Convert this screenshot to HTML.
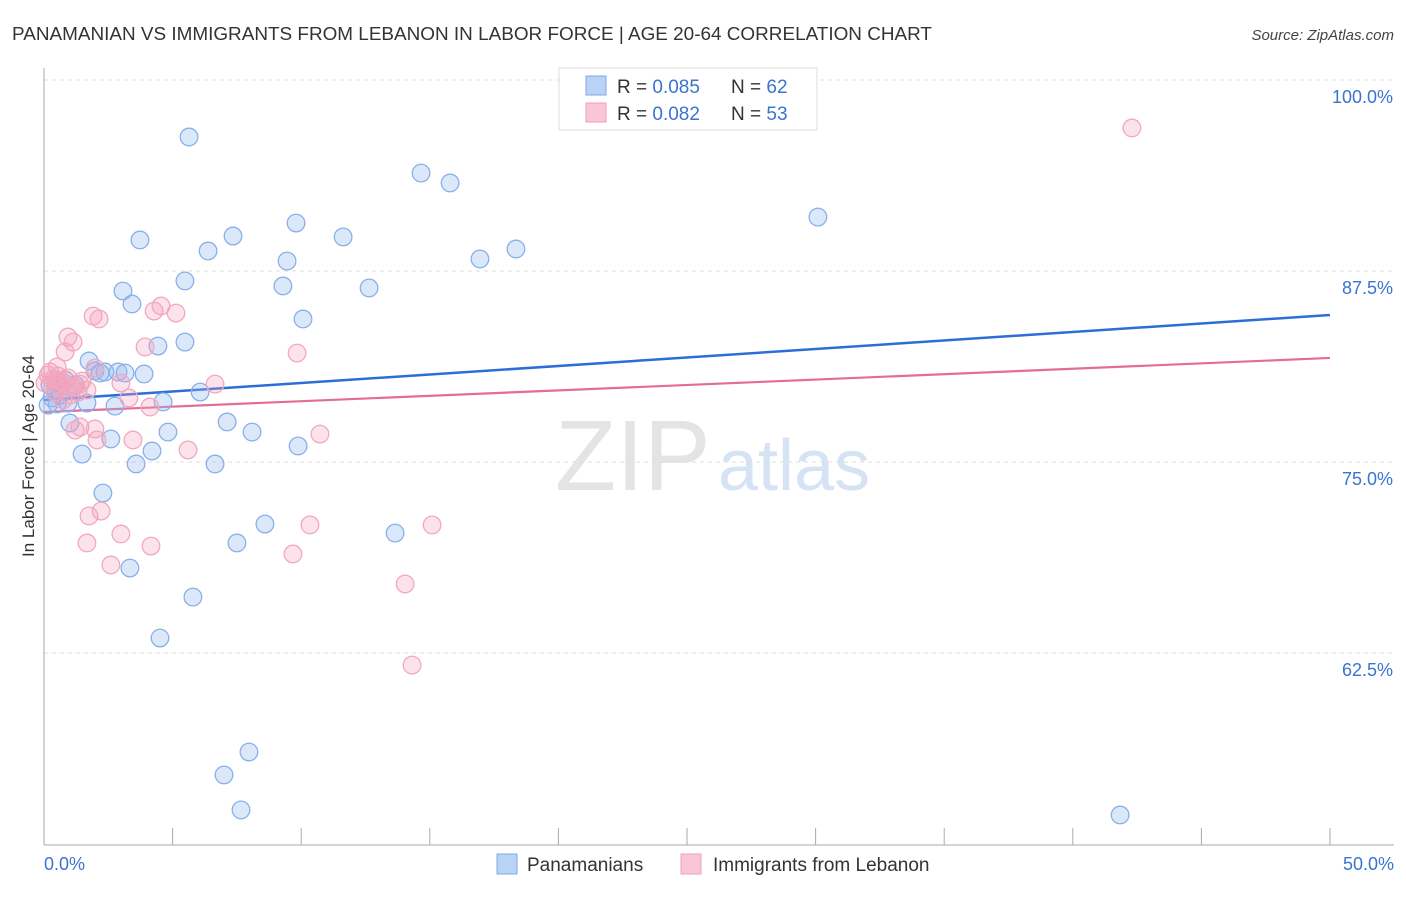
<!DOCTYPE html>
<html><head><meta charset="utf-8"><style>
body{margin:0;background:#fff;font-family:"Liberation Sans",sans-serif;}
svg text{font-family:"Liberation Sans",sans-serif;}
</style></head><body>
<svg id="chart" width="1406" height="892" xmlns="http://www.w3.org/2000/svg">
<text x="12" y="40" font-size="18" fill="#333" textLength="920" lengthAdjust="spacingAndGlyphs">PANAMANIAN VS IMMIGRANTS FROM LEBANON IN LABOR FORCE | AGE 20-64 CORRELATION CHART</text>
<text x="1394" y="40" font-size="15" fill="#444" text-anchor="end" font-style="italic">Source: ZipAtlas.com</text>
<g>
<text x="555" y="490" font-size="100" fill="#e4e4e4" font-family="Liberation Serif,serif">ZIP</text>
<text x="718" y="490" font-size="72" fill="#d6e3f5">atlas</text>
</g>
<g id="grid"></g>
<g id="axes"></g>
<g id="lines"></g>
<g id="pts"></g>
<g>
<rect x="559" y="68" width="258" height="62" fill="#fff" stroke="#ddd"/>
<rect x="586" y="76" width="20" height="19" fill="#b9d3f5" stroke="#7fa9e6"/>
<rect x="586" y="103" width="20" height="19" fill="#f9c6d5" stroke="#f0a0b8"/>
<text x="617" y="93" font-size="19" fill="#333">R = <tspan fill="#3a73d0">0.085</tspan></text>
<text x="731" y="93" font-size="19" fill="#333">N = <tspan fill="#3a73d0">62</tspan></text>
<text x="617" y="120" font-size="19" fill="#333">R = <tspan fill="#3a73d0">0.082</tspan></text>
<text x="731" y="120" font-size="19" fill="#333">N = <tspan fill="#3a73d0">53</tspan></text>
</g>
<g>
<rect x="497" y="854" width="20" height="20" fill="#b9d3f5" stroke="#7fa9e6"/>
<text x="527" y="871" font-size="19" fill="#333">Panamanians</text>
<rect x="681" y="854" width="20" height="20" fill="#f9c6d5" stroke="#f0a0b8"/>
<text x="713" y="871" font-size="19" fill="#333">Immigrants from Lebanon</text>
</g>
<text transform="translate(34,456) rotate(-90)" font-size="17" fill="#333" text-anchor="middle">In Labor Force | Age 20-64</text>
</svg>
<script>
const blueX=[5.64,14.66,15.79,30.09,3.73,7.35,9.80,11.63,6.38,18.35,16.95,9.45,5.48,9.29,12.64,3.07,3.42,10.07,5.48,4.43,1.75,1.98,2.37,2.88,3.15,3.89,6.07,4.63,2.76,0.51,0.31,0.93,1.67,1.01,7.12,8.09,4.82,2.60,4.20,1.48,3.58,6.65,9.88,2.29,8.59,13.65,7.50,3.34,5.79,4.51,7.97,7.00,7.66,41.84,23.09,0.43,0.62,0.16,1.21,0.82,2.18,0.23];
const blueY=[96.27,93.91,93.26,91.03,89.53,89.79,90.64,89.73,88.81,88.94,88.29,88.15,86.85,86.52,86.39,86.19,85.34,84.36,82.85,82.59,81.61,80.96,80.89,80.89,80.82,80.76,79.58,78.93,78.66,78.80,79.19,78.86,78.86,77.55,77.62,76.96,76.96,76.51,75.72,75.52,74.87,74.87,76.05,72.97,70.94,70.35,69.70,68.06,66.16,63.48,56.02,54.52,52.23,51.90,97.84,79.71,79.38,78.73,80.04,80.37,80.82,80.04];
const pinkX=[42.30,1.91,2.14,4.28,4.55,5.13,0.93,1.13,0.82,9.84,3.93,0.51,1.98,0.23,0.47,0.78,0.62,1.13,1.40,1.67,1.32,2.99,6.65,3.30,4.12,1.21,1.40,1.98,2.06,3.46,5.60,10.73,1.75,2.22,2.99,1.67,4.16,2.60,10.34,9.68,15.09,14.04,14.31,0.16,0.31,0.54,0.70,0.93,0.04,1.48,1.01,0.43,0.74];
const pinkY=[96.86,84.55,84.36,84.88,85.21,84.75,83.18,82.85,82.20,82.13,82.53,81.22,81.15,80.89,80.37,80.17,79.91,79.91,80.10,79.71,79.58,80.17,80.10,79.19,78.60,77.09,77.29,77.16,76.44,76.44,75.79,76.83,71.47,71.79,70.29,69.70,69.50,68.26,70.88,68.98,70.88,67.02,61.71,80.69,80.37,80.63,80.24,80.50,80.17,80.30,79.38,79.58,79.06];
const blueTrend=[79.06,84.62];
const pinkTrend=[78.27,81.81];
const yTicks=[100,87.5,75,62.5];
const yTickLabels=["100.0%","87.5%","75.0%","62.5%"];
const xLabels=["0.0%","50.0%"];

const NS="http://www.w3.org/2000/svg";
const sx=v=>44+v*25.72;
const sy=v=>80+(100-v)*15.28;
function mk(tag,attrs,parent){const e=document.createElementNS(NS,tag);for(const k in attrs)e.setAttribute(k,attrs[k]);parent.appendChild(e);return e;}
const grid=document.getElementById('grid'),axes=document.getElementById('axes'),lines=document.getElementById('lines'),pts=document.getElementById('pts');
yTicks.forEach((t,i)=>{
  const l=mk('line',{x1:44,x2:1394,y1:sy(t),y2:sy(t),stroke:'#ddd','stroke-dasharray':'4,4'},grid);
  
  
  const tx=mk('text',{x:1393,y:sy(t)+23,'font-size':18,fill:'#3a73d0','text-anchor':'end'},axes);
  tx.textContent=yTickLabels[i];
  
  
});
const ya=mk('line',{x1:44,x2:44,y1:68,y2:845,stroke:'#aaa'},axes);


const xa=mk('line',{x1:44,x2:1394,y1:845,y2:845,stroke:'#aaa'},axes);


for(let i=0;i<=10;i++){
  const t=mk('line',{x1:sx(i*5),x2:sx(i*5),y1:828,y2:845,stroke:'#aaa'},axes);
  
  
}
const xl0=mk('text',{x:44,y:870,'font-size':18,fill:'#3a73d0'},axes);xl0.textContent=xLabels[0];


const xl1=mk('text',{x:1394,y:870,'font-size':18,fill:'#3a73d0','text-anchor':'end'},axes);xl1.textContent=xLabels[1];



function dots(X,Y,fill,stroke,name){
  X.forEach((x,i)=>{
    const c=mk('circle',{cx:sx(x),cy:sy(Y[i]),r:8.8,fill:fill,stroke:stroke,'stroke-width':1.3},pts);
    
    
  });
}
dots(blueX,blueY,'rgba(150,188,240,0.35)','#8ab0e8','panamanian-point');
dots(pinkX,pinkY,'rgba(245,160,188,0.3)','#f2a8bf','lebanon-point');
const bl=mk('line',{x1:sx(0),y1:sy(blueTrend[0]),x2:sx(50),y2:sy(blueTrend[1]),stroke:'#2b6fd6','stroke-width':2.5},lines);


const pl=mk('line',{x1:sx(0),y1:sy(pinkTrend[0]),x2:sx(50),y2:sy(pinkTrend[1]),stroke:'#e46c98','stroke-width':2.2},lines);


</script>
</body></html>
